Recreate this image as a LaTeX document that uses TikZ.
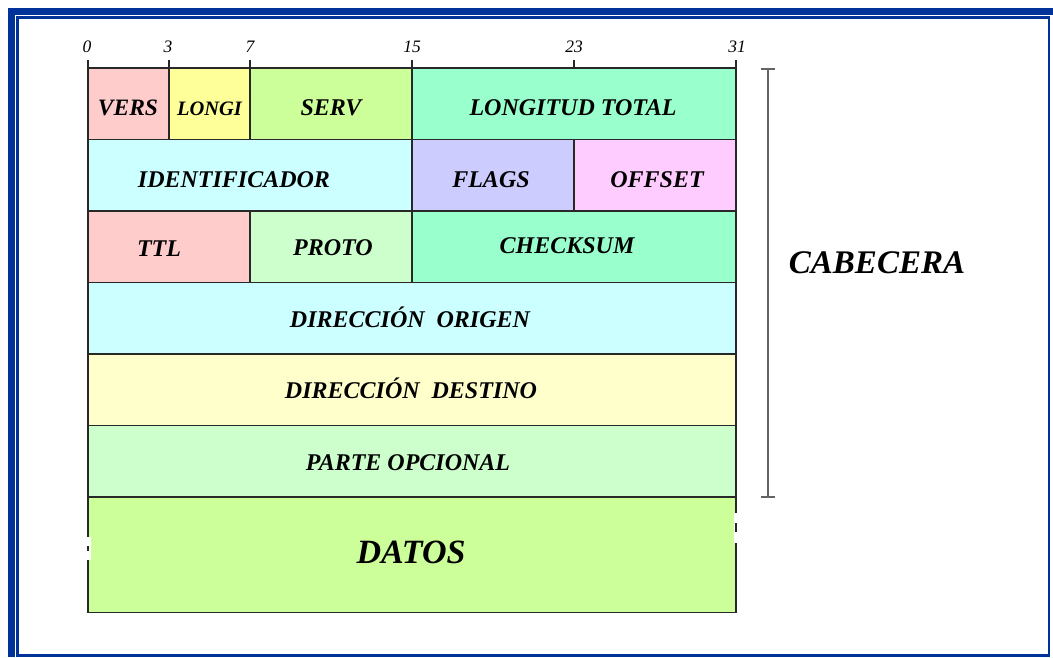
\documentclass[tikz,border=0pt]{standalone}
\usepackage{fontspec}
\setmainfont{Liberation Serif}
\usetikzlibrary{arrows.meta}
\definecolor{frameblue}{RGB}{0,51,153}
\definecolor{cPink}{HTML}{FFCCCC}
\definecolor{cYellow}{HTML}{FFFF99}
\definecolor{cLime}{HTML}{CCFF99}
\definecolor{cMint}{HTML}{99FFCC}
\definecolor{cCyan}{HTML}{CCFFFF}
\definecolor{cLav}{HTML}{CCCCFF}
\definecolor{cMag}{HTML}{FFCCFF}
\definecolor{cPale}{HTML}{CCFFCC}
\definecolor{cCream}{HTML}{FFFFCC}
\definecolor{edge}{RGB}{40,40,40}
\definecolor{brk}{RGB}{100,100,100}
\tikzset{
  cell/.style={draw=edge, line width=1.3pt, anchor=north west, inner sep=0pt, outer sep=0pt, minimum height=71.5pt},
  lbl/.style={anchor=base, inner sep=0pt, font=\fontsize{24}{28}\selectfont\bfseries\itshape},
  num/.style={anchor=base, inner sep=0pt, font=\fontsize{17.5}{20}\selectfont\itshape},
  tickline/.style={draw=edge, line width=1.3pt},
  bracket/.style={draw=brk, line width=2pt, {Bar[width=14pt]}-{Bar[width=14pt]}},
}
\begin{document}
\begin{tikzpicture}[x=1pt,y=-1pt]
\useasboundingbox (0,0) rectangle (1053,657);
\fill[white] (0,0) rectangle (1053,657);
% frame
\fill[frameblue] (8,8) rectangle (1053,15);
\fill[frameblue] (8,8) rectangle (15,657);
\draw[frameblue, line width=2.5pt] (17.7,17.7) rectangle (1049,655.5);

% row 1
\node[cell, fill=cPink,   minimum width=81pt]  (vers)  at (88,68)  {};
\node[cell, fill=cYellow, minimum width=81pt]  (longi) at (169,68) {};
\node[cell, fill=cLime,   minimum width=162pt] (serv)  at (250,68) {};
\node[cell, fill=cMint,   minimum width=324pt] (ltot)  at (412,68) {};
% row 2
\node[cell, fill=cCyan, minimum width=324pt] (ident)  at (88,139.5)  {};
\node[cell, fill=cLav,  minimum width=162pt] (flags)  at (412,139.5) {};
\node[cell, fill=cMag,  minimum width=162pt] (offset) at (574,139.5) {};
% row 3
\node[cell, fill=cPink, minimum width=162pt] (ttl)   at (88,211)  {};
\node[cell, fill=cPale, minimum width=162pt] (proto) at (250,211) {};
\node[cell, fill=cMint, minimum width=324pt] (chk)   at (412,211) {};
% rows 4-6
\node[cell, fill=cCyan,  minimum width=648pt] (orig) at (88,282.5) {};
\node[cell, fill=cCream, minimum width=648pt] (dest) at (88,354)   {};
\node[cell, fill=cPale,  minimum width=648pt] (opc)  at (88,425.5) {};
% datos
\node[cell, fill=cLime, minimum width=648pt, minimum height=115.5pt] (datos) at (88,497) {};
% breaks in the DATOS sides
\fill[white] (85.5,537) rectangle (90.5,560);
\draw[edge, line width=1.3pt] (88,546) -- (88,551);
\fill[white] (733.5,513) rectangle (738.5,543);
\draw[edge, line width=1.3pt] (736,523) -- (736,532);

% labels
\node[lbl, font=\fontsize{23.5}{28}\selectfont\bfseries\itshape] (tvers) at (128,115) {VERS};
\node[lbl, font=\fontsize{20.5}{24}\selectfont\bfseries\itshape] (tlongi) at (209.5,115) {LONGI};
\node[lbl] (tserv) at (331,115) {SERV};
\node[lbl] (tltot) at (573,115) {LONGITUD TOTAL};
\node[lbl] (tident) at (234,187) {IDENTIFICADOR};
\node[lbl] (tflags) at (491,187) {FLAGS};
\node[lbl] (toffset) at (657,187) {OFFSET};
\node[lbl] (tttl) at (159,256) {TTL};
\node[lbl] (tproto) at (333,255) {PROTO};
\node[lbl] (tchk) at (567,253) {CHECKSUM};
\node[lbl] (torig) at (410,327) {DIRECCIÓN\ \ ORIGEN};
\node[lbl] (tdest) at (411,398) {DIRECCIÓN\ \ DESTINO};
\node[lbl] (topc) at (408,470) {PARTE OPCIONAL};
\node[lbl, font=\fontsize{34}{40}\selectfont\bfseries\itshape] (tdatos) at (411,563) {DATOS};

% bit ruler
\coordinate (k0) at (88,60);
\coordinate (k3) at (169,60);
\coordinate (k7) at (250,60);
\coordinate (k15) at (412,60);
\coordinate (k23) at (574,60);
\coordinate (k31) at (736,60);
\draw[tickline] (k0) -- (vers.north west);
\draw[tickline] (k3) -- (longi.north west);
\draw[tickline] (k7) -- (serv.north west);
\draw[tickline] (k15) -- (ltot.north west);
\draw[tickline] (k23) -- (574,68);
\draw[tickline] (k31) -- (ltot.north east);
\node[num] (n0) at (87,52) {0};
\node[num] (n3) at (168,52) {3};
\node[num] (n7) at (250,52) {7};
\node[num] (n15) at (412,52) {15};
\node[num] (n23) at (574,52) {23};
\node[num] (n31) at (737,52) {31};

% header bracket
\coordinate (bt) at (768,68);
\coordinate (bb) at (768,497.5);
\draw[bracket] (bt) -- (bb);
\node[lbl, font=\fontsize{33}{40}\selectfont\bfseries\itshape] (cab) at (877,273) {CABECERA};
\end{tikzpicture}
\end{document}
